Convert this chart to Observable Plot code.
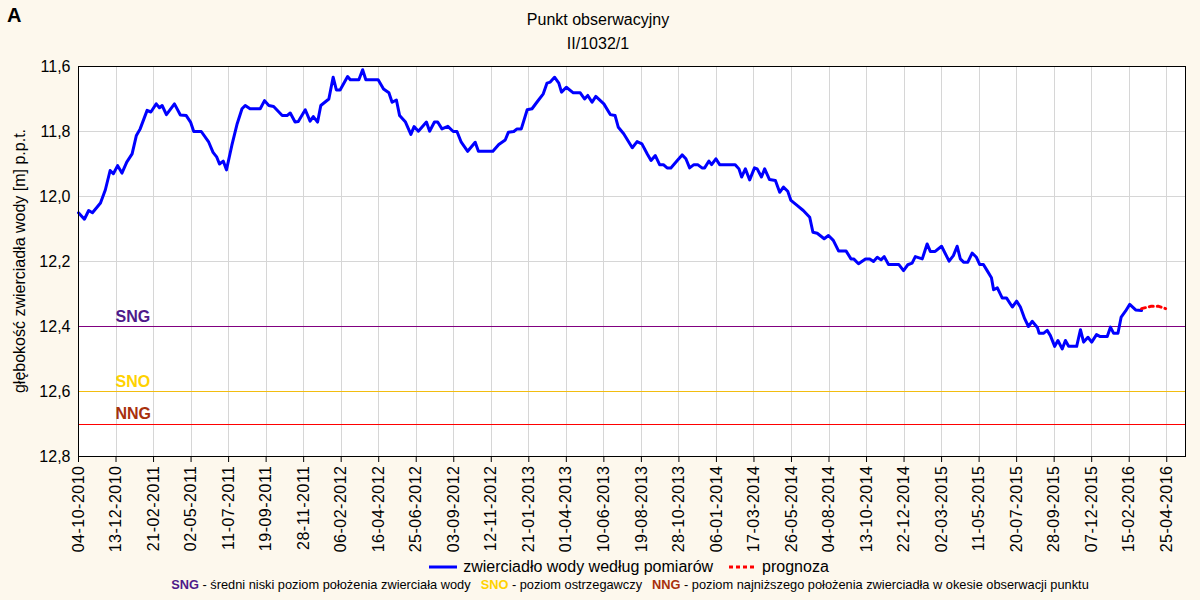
<!DOCTYPE html>
<html><head><meta charset="utf-8">
<script src="https://cdn.jsdelivr.net/npm/d3@7"></script>
<script src="https://cdn.jsdelivr.net/npm/@observablehq/plot@0.6"></script>
<style>
body{margin:0;background:#fdf8ed;width:1200px;height:600px;position:relative;overflow:hidden;font-family:"Liberation Sans",Arial,sans-serif;color:#000;}
#A{position:absolute;left:7px;top:4px;font-weight:bold;font-size:20px;}
.title{position:absolute;left:0;width:1196px;text-align:center;font-size:16px;line-height:18px;}
#chart{position:absolute;left:0;top:56px;}
#chart g[aria-label="x-axis tick label"] text{letter-spacing:0.5px;}
#ylabel{position:absolute;left:20px;top:261px;transform:translate(-50%,-50%) rotate(-90deg);white-space:nowrap;font-size:16px;}
#leg1{position:absolute;top:557px;left:0;width:1258px;display:flex;justify-content:center;align-items:center;font-size:16px;line-height:20px;}
#leg2{position:absolute;top:577px;left:0;width:1260px;text-align:center;font-size:12.8px;line-height:16px;white-space:nowrap;}
#leg2 b{font-weight:bold;}
.gap{display:inline-block;width:10px;}
</style></head>
<body>
<div id="A">A</div>
<div class="title" style="top:11px">Punkt obserwacyjny</div>
<div class="title" style="top:35px">II/1032/1</div>
<div id="ylabel">głębokość zwierciadła wody [m] p.p.t.</div>
<div id="chart"></div>
<div id="leg1"></div>
<div id="leg2"></div>
<script>
// measured groundwater depth (m below surface)
const measuredDates = ["2010-10-04","2010-10-15","2010-10-23","2010-10-30","2010-11-14","2010-11-23","2010-12-02","2010-12-08","2010-12-16","2010-12-24",
"2011-01-02","2011-01-12","2011-01-20","2011-01-27","2011-02-09","2011-02-16","2011-02-26","2011-03-04","2011-03-09","2011-03-17",
"2011-04-01","2011-04-12","2011-04-23","2011-05-01","2011-05-07","2011-05-21","2011-06-04","2011-06-12","2011-06-19","2011-06-24",
"2011-07-01","2011-07-07","2011-07-17","2011-07-27","2011-08-05","2011-08-11","2011-08-20","2011-09-08","2011-09-16","2011-09-24",
"2011-10-03","2011-10-19","2011-10-28","2011-11-03","2011-11-12","2011-11-18","2011-12-01","2011-12-10","2011-12-16","2011-12-24",
"2011-12-30","2012-01-14","2012-01-22","2012-01-28","2012-02-04","2012-02-18","2012-02-23","2012-03-10","2012-03-17","2012-03-23",
"2012-04-15","2012-04-25","2012-05-05","2012-05-11","2012-05-19","2012-05-25","2012-06-05","2012-06-15","2012-06-21","2012-06-29",
"2012-07-14","2012-07-20","2012-07-29","2012-08-04","2012-08-12","2012-08-23","2012-09-02","2012-09-09","2012-09-17","2012-09-29",
"2012-10-13","2012-10-19","2012-11-15","2012-11-26","2012-12-08","2012-12-14","2012-12-24","2012-12-30","2013-01-07","2013-01-18",
"2013-01-27","2013-02-05","2013-02-17","2013-02-24","2013-03-02","2013-03-10","2013-03-18","2013-03-23","2013-04-01","2013-04-14",
"2013-04-27","2013-05-05","2013-05-11","2013-05-19","2013-05-26","2013-06-10","2013-06-22","2013-07-01","2013-07-07","2013-07-17",
"2013-08-02","2013-08-11","2013-08-20","2013-08-30","2013-09-06","2013-09-14","2013-09-22","2013-09-29","2013-10-06","2013-10-13",
"2013-10-25","2013-11-03","2013-11-10","2013-11-17","2013-11-25","2013-12-02","2013-12-10","2013-12-15","2013-12-23","2013-12-28",
"2014-01-05","2014-01-12","2014-02-10","2014-02-17","2014-02-22","2014-03-01","2014-03-09","2014-03-18","2014-03-23","2014-03-31",
"2014-04-06","2014-04-15","2014-04-26","2014-05-04","2014-05-11","2014-05-19","2014-05-25","2014-06-06","2014-06-17","2014-06-29",
"2014-07-05","2014-07-13","2014-07-26","2014-08-03","2014-08-12","2014-08-22","2014-09-05","2014-09-14","2014-09-19","2014-09-28",
"2014-10-11","2014-10-19","2014-10-26","2014-11-02","2014-11-09","2014-11-15","2014-11-23","2014-12-12","2014-12-21","2014-12-29",
"2015-01-06","2015-01-12","2015-01-25","2015-02-03","2015-02-09","2015-02-18","2015-03-02","2015-03-16","2015-03-24","2015-03-31",
"2015-04-06","2015-04-12","2015-04-20","2015-04-28","2015-05-06","2015-05-12","2015-05-19","2015-05-26","2015-06-03","2015-06-07",
"2015-06-14","2015-06-23","2015-07-01","2015-07-12","2015-07-20","2015-07-27","2015-08-04","2015-08-11","2015-08-18","2015-08-28",
"2015-08-31","2015-09-08","2015-09-15","2015-09-21","2015-09-29","2015-10-05","2015-10-13","2015-10-19","2015-10-25","2015-11-09",
"2015-11-16","2015-11-22","2015-11-30","2015-12-07","2015-12-16","2015-12-23","2016-01-05","2016-01-11","2016-01-17","2016-01-25",
"2016-01-31","2016-02-08","2016-02-16","2016-02-27","2016-03-09"];
const measuredDepths = [12.05,12.07,12.043,12.05,12.02,11.98,11.92,11.93,11.905,11.928,
11.894,11.869,11.812,11.792,11.735,11.74,11.715,11.727,11.72,11.748,
11.715,11.749,11.751,11.771,11.80,11.80,11.833,11.864,11.879,11.90,
11.891,11.918,11.843,11.776,11.73,11.72,11.73,11.73,11.705,11.72,
11.723,11.751,11.751,11.743,11.771,11.769,11.733,11.768,11.754,11.771,
11.72,11.70,11.633,11.672,11.672,11.631,11.641,11.641,11.61,11.641,
11.641,11.669,11.681,11.71,11.703,11.751,11.771,11.809,11.785,11.799,
11.771,11.799,11.771,11.771,11.792,11.784,11.80,11.80,11.833,11.861,
11.833,11.861,11.861,11.84,11.826,11.802,11.80,11.792,11.792,11.733,
11.73,11.71,11.684,11.651,11.648,11.633,11.651,11.679,11.664,11.681,
11.681,11.70,11.689,11.71,11.692,11.715,11.748,11.751,11.787,11.807,
11.85,11.831,11.838,11.869,11.889,11.874,11.902,11.902,11.912,11.912,
11.889,11.872,11.884,11.912,11.902,11.902,11.912,11.912,11.891,11.902,
11.884,11.902,11.902,11.915,11.94,11.915,11.949,11.912,11.915,11.94,
11.915,11.948,11.951,11.987,11.971,11.984,12.012,12.028,12.043,12.064,
12.11,12.113,12.13,12.12,12.135,12.168,12.168,12.192,12.192,12.207,
12.192,12.192,12.20,12.187,12.195,12.185,12.209,12.209,12.228,12.21,
12.205,12.185,12.192,12.146,12.169,12.169,12.153,12.199,12.182,12.153,
12.192,12.202,12.202,12.174,12.187,12.209,12.209,12.228,12.25,12.287,
12.281,12.312,12.312,12.34,12.322,12.34,12.376,12.40,12.384,12.404,
12.421,12.421,12.412,12.428,12.461,12.443,12.469,12.443,12.461,12.461,
12.41,12.448,12.433,12.448,12.425,12.431,12.431,12.402,12.421,12.421,
12.371,12.353,12.332,12.349,12.351];
// forecast
const forecastDates = ["2016-03-09","2016-03-26","2016-04-10","2016-04-23"];
const forecastDepths = [12.345,12.338,12.338,12.345];
// reference levels
const refLabels = ["SNG","SNO","NNG"];
const refValues = [12.4,12.6,12.7];
const refLineColors = ["#800080","#f2bd10","#ff0000"];
const refTextColors = ["#4e1a8a","#ffd200","#a8300c"];
// axes
const xTickLabels = ["04-10-2010","13-12-2010","21-02-2011","02-05-2011","11-07-2011","19-09-2011","28-11-2011","06-02-2012","16-04-2012","25-06-2012",
"03-09-2012","12-11-2012","21-01-2013","01-04-2013","10-06-2013","19-08-2013","28-10-2013","06-01-2014","17-03-2014","26-05-2014",
"04-08-2014","13-10-2014","22-12-2014","02-03-2015","11-05-2015","20-07-2015","28-09-2015","07-12-2015","15-02-2016","25-04-2016"];
const xDomain = ["2010-10-04","2016-05-30"];
const yTicks = [11.6,11.8,12.0,12.2,12.4,12.6,12.8];
const yDomain = [11.6,12.8];

const parseIso = d3.utcParse("%Y-%m-%d");
const parseTick = d3.utcParse("%d-%m-%Y");
const fmtTick = d3.utcFormat("%d-%m-%Y");
const measured = measuredDates.map((d,i)=>({date:parseIso(d), depth:measuredDepths[i]}));
const forecast = forecastDates.map((d,i)=>({date:parseIso(d), depth:forecastDepths[i]}));
const refs = refLabels.map((l,i)=>({label:l, value:refValues[i], line:refLineColors[i], text:refTextColors[i]}));
const xTicks = xTickLabels.map(parseTick);

const chart = Plot.plot({
  width:1200, height:510,
  marginLeft:78, marginRight:15, marginTop:10, marginBottom:110,
  style:{background:"transparent", fontFamily:"'Liberation Sans', Arial, sans-serif", fontSize:"16px", color:"black", overflow:"visible"},
  color:{type:"identity"},
  x:{type:"utc", domain:xDomain.map(parseIso), ticks:xTicks, tickFormat:fmtTick, tickRotate:-90, tickSize:6, tickPadding:3, label:null},
  y:{domain:yDomain, reverse:true, ticks:yTicks, tickFormat:d=>d.toFixed(1).replace(".",","), tickSize:0, tickPadding:8, label:null},
  marks:[
    Plot.frame({fill:"white"}),
    Plot.gridX(xTicks,{stroke:"#d6d6d6", strokeOpacity:1, shapeRendering:"crispEdges"}),
    Plot.gridY(yTicks,{stroke:"#d6d6d6", strokeOpacity:1, shapeRendering:"crispEdges"}),
    Plot.ruleY(refs,{y:"value", stroke:"line", strokeWidth:1, shapeRendering:"crispEdges"}),
    Plot.text(refs,{y:"value", text:"label", fill:"text", frameAnchor:"left", dx:37, dy:-5, textAnchor:"start", lineAnchor:"bottom", fontWeight:"bold", fontSize:16}),
    Plot.line(measured,{x:"date", y:"depth", stroke:"#0000ff", strokeWidth:3, strokeLinejoin:"round"}),
    Plot.line(forecast,{x:"date", y:"depth", stroke:"#ff0000", strokeWidth:3, strokeDasharray:"4,4"}),
    Plot.frame({stroke:"black", strokeWidth:1, shapeRendering:"crispEdges"})
  ]
});
document.getElementById("chart").appendChild(chart);

document.getElementById("leg1").innerHTML =
  '<svg width="28" height="6" style="margin-right:6px"><line x1="0" x2="28" y1="3" y2="3" stroke="#0000ff" stroke-width="3"/></svg>' +
  '<span>zwierciadło wody według pomiarów</span>' +
  '<svg width="26" height="6" style="margin-left:16px;margin-right:7px"><line x1="0" x2="26" y1="3" y2="3" stroke="#ff0000" stroke-width="3" stroke-dasharray="4,3"/></svg>' +
  '<span>prognoza</span>';
document.getElementById("leg2").innerHTML =
  '<b style="color:'+refTextColors[0]+'">SNG</b> - średni niski poziom położenia zwierciała wody<span class="gap"></span>' +
  '<b style="color:'+refTextColors[1]+'">SNO</b> - poziom ostrzegawczy<span class="gap"></span>' +
  '<b style="color:'+refTextColors[2]+'">NNG</b> - poziom najniższego położenia zwierciadła w okesie obserwacji punktu';
</script>
</body></html>
